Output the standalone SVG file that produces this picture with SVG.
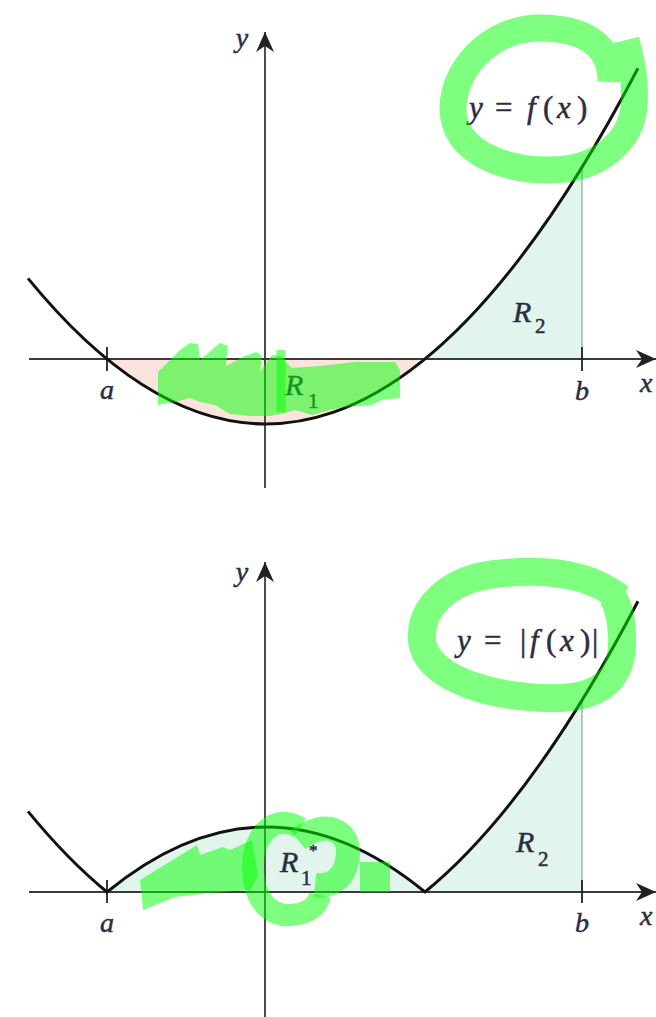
<svg xmlns="http://www.w3.org/2000/svg" width="656" height="1017" viewBox="0 0 656 1017">
<style>
.axis{stroke:#3a3a3a;stroke-width:1.8;fill:none}
.tick{stroke:#222;stroke-width:1.8}
.curve{stroke:#111;stroke-width:3;fill:none;stroke-linejoin:round}
.edge{stroke:#8fb0a2;stroke-width:1.3}
text{font-family:'Liberation Serif','Times New Roman','DejaVu Serif',serif;font-style:italic;fill:#2b2d42;stroke:#2b2d42;stroke-width:0.5}
.up{font-style:normal}
.hl{fill:none;stroke:#00ff00;stroke-opacity:0.5;stroke-linejoin:round}
.hf{fill:#00ff00;fill-opacity:0.5;stroke:none}
</style>
<defs>
<marker id="arr" markerUnits="userSpaceOnUse" viewBox="-20 -9 20 18" refX="0" refY="0" markerWidth="20" markerHeight="18" orient="auto">
<path d="M0,0 L-20,-9 L-14,0 L-20,9 Z" fill="#222"/>
</marker>
</defs>
<rect width="656" height="1017" fill="#fff"/>

<g id="top-graph">
<path d="M107,359 Q266,489 425,359 Z" fill="#fbe4de"/>
<path d="M425,359 Q503.5,294.8 582,167.3 L582,359 Z" fill="#e2f5ed"/>
<line class="edge" x1="582" y1="167" x2="582" y2="359"/>
<g id="top-axes">
<line class="axis" x1="29" y1="359" x2="656" y2="359" marker-end="url(#arr)"/>
<line class="axis" x1="265" y1="488" x2="265" y2="32" marker-end="url(#arr)"/>
<line class="tick" x1="107" y1="347" x2="107" y2="371"/>
<line class="tick" x1="582" y1="347" x2="582" y2="371"/>
</g>
<path class="curve" d="M28,278.4 Q333,651.6 638,68.2"/>
<text x="242" y="47" font-size="28" text-anchor="middle">y</text>
<text x="107" y="399" font-size="28" text-anchor="middle">a</text>
<text x="582" y="400" font-size="28" text-anchor="middle">b</text>
<text x="640" y="392" font-size="28">x</text>
<text x="513" y="322" font-size="30">R<tspan class="up" font-size="21" x="535" dy="11">2</tspan></text>
<text x="285" y="395" font-size="30">R<tspan class="up" font-size="21" x="308" dy="13">1</tspan></text>
<text y="118" font-size="31"><tspan x="469">y</tspan><tspan class="up" x="495">=</tspan><tspan x="527">f</tspan><tspan class="up" x="543">(</tspan><tspan x="557">x</tspan><tspan class="up" x="577">)</tspan></text>
</g>

<g id="bottom-graph">
<path d="M107,892 Q266,762 425,892 Q503.5,827.8 582,700.3 L582,892 Z" fill="#e2f5ed"/>
<line class="edge" x1="582" y1="700" x2="582" y2="892"/>
<g id="bottom-axes">
<line class="axis" x1="29" y1="892" x2="656" y2="892" marker-end="url(#arr)"/>
<line class="axis" x1="265" y1="1017" x2="265" y2="562" marker-end="url(#arr)"/>
<line class="tick" x1="107" y1="880" x2="107" y2="903"/>
<line class="tick" x1="582" y1="880" x2="582" y2="903"/>
</g>
<path class="curve" d="M28,811.4 Q67.5,859.7 107,892 Q266,762 425,892 Q531.5,804.9 638,601.2"/>
<text x="242" y="581" font-size="28" text-anchor="middle">y</text>
<text x="107" y="932" font-size="28" text-anchor="middle">a</text>
<text x="582" y="932" font-size="28" text-anchor="middle">b</text>
<text x="640" y="925" font-size="28">x</text>
<text x="516" y="852" font-size="30">R<tspan class="up" font-size="21" x="538" dy="14">2</tspan></text>
<text x="280" y="872" font-size="30">R<tspan class="up" font-size="21" x="301" dy="13">1</tspan><tspan class="up" font-size="17" x="309" dy="-29">*</tspan></text>
<text y="651" font-size="31"><tspan x="457">y</tspan><tspan class="up" x="484">=</tspan><tspan class="up" x="520">|</tspan><tspan x="530">f</tspan><tspan class="up" x="546">(</tspan><tspan x="560">x</tspan><tspan class="up" x="580">)</tspan><tspan class="up" x="592">|</tspan></text>
</g>

<g id="highlights">
<path class="hl" stroke-width="27" d="M611,82 C612,50 590,28 540,28 C490,28 452,70 453,110 C454,150 500,170 550,170 C600,170 632,140 634,105 C636,80 631,60 626,40"/>
<path class="hf" d="M158,372 L180,350 L190,343 L198,344 L200,360 L220,343 L228,346 L226,366 L245,356 L256,352 L262,356 L260,372 L272,355 L280,356 L292,368 L320,366 L355,362 L395,362 L400,370 L400,398 L382,400 L372,405 L345,407 L330,410 L312,415 L295,410 L285,413 L270,416 L250,416 L230,414 L215,405 L200,402 L190,398 L175,402 L158,405 Z"/>
<path class="hl" stroke-width="9" d="M281,350 L281,412"/>
<path class="hl" stroke-width="28" d="M620,598 C590,574 545,568 495,574 C445,580 420,610 422,640 C425,680 500,700 560,698 C610,696 624,670 622,635 C621,615 618,605 612,596"/>
<path class="hf" d="M140,880 L197,845 L200,855 L223,847 L230,850 L252,840 L258,876 L250,890 L210,893 L175,897 L143,910 Z"/>
<path class="hl" stroke-width="22" d="M300,828 C275,812 253,835 253,866 C253,900 270,916 290,915 C310,914 318,905 320,895"/>
<path class="hl" stroke-width="24" d="M298,840 C325,818 350,830 348,855 C346,878 332,887 315,885"/>
<path class="hl" stroke-width="30" d="M360,877 L390,877"/>
</g>
</svg>
